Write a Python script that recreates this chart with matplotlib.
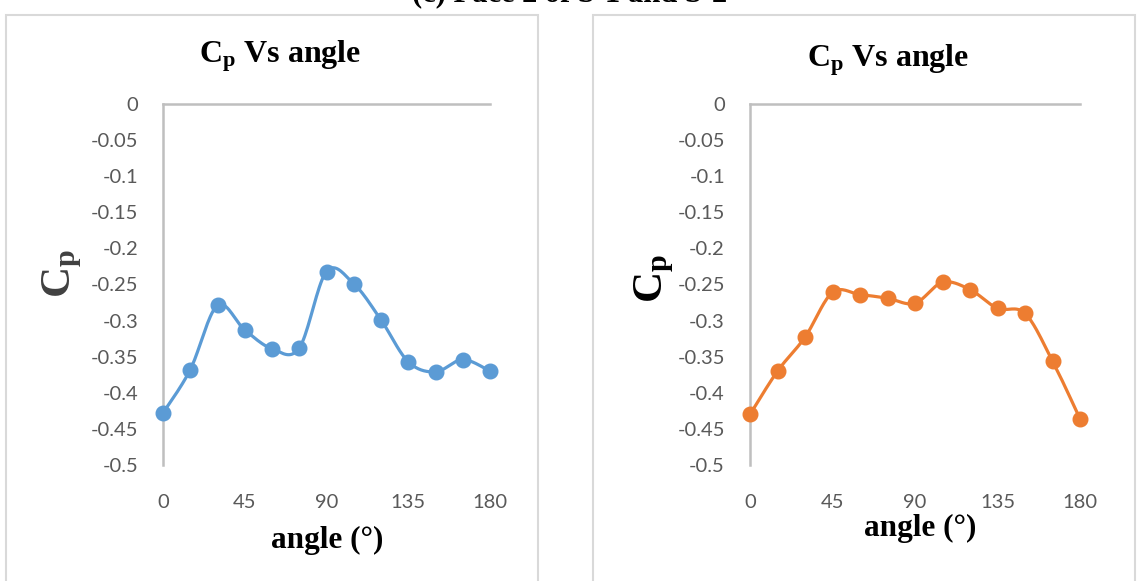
import numpy as np
import matplotlib
matplotlib.use("Agg")
import matplotlib.pyplot as plt
from matplotlib.patches import Rectangle

plt.rcParams['mathtext.fontset'] = 'custom'
plt.rcParams['mathtext.rm'] = 'Liberation Serif'
plt.rcParams['mathtext.bf'] = 'Liberation Serif:bold'
plt.rcParams['mathtext.it'] = 'Liberation Serif:italic'

# ---- data ----
angles = [0, 15, 30, 45, 60, 75, 90, 105, 120, 135, 150, 165, 180]
cp_s1 = [-0.428, -0.368, -0.279, -0.313, -0.339, -0.338, -0.232, -0.249,
         -0.299, -0.357, -0.371, -0.354, -0.370]
cp_s2 = [-0.430, -0.370, -0.323, -0.261, -0.264, -0.269, -0.276, -0.247,
         -0.257, -0.283, -0.290, -0.356, -0.436]
x_ticks = [0, 45, 90, 135, 180]
y_ticks = [0, -0.05, -0.1, -0.15, -0.2, -0.25, -0.3, -0.35, -0.4, -0.45, -0.5]
y_ticklabels = ['0', '-0.05', '-0.1', '-0.15', '-0.2', '-0.25', '-0.3',
                '-0.35', '-0.4', '-0.45', '-0.5']
caption = "(c) Face 2 of S-1 and S-2"
title_text = r"$\mathbf{C_p}$ Vs angle"
xlabel_text = "angle (°)"
ylabel_text = r"$\mathbf{C_p}$"
colors = ['#5B9BD5', '#ED7D31']

W, H = 1137, 581
fig = plt.figure(figsize=(W / 100, H / 100), dpi=100)


def smooth(x, y, n=20):
    """Excel-style smoothed line (cardinal Bezier through the points)."""
    x = np.asarray(x, float); y = np.asarray(y, float)
    P = np.column_stack([x, y])
    out = []
    for i in range(len(P) - 1):
        p0 = P[i - 1] if i > 0 else P[i]
        p1 = P[i]; p2 = P[i + 1]
        p3 = P[i + 2] if i + 2 < len(P) else P[i + 1]
        c1 = p1 + (p2 - p0) / 6.0
        c2 = p2 - (p3 - p1) / 6.0
        t = np.linspace(0, 1, n)[:, None]
        seg = ((1 - t) ** 3) * p1 + 3 * ((1 - t) ** 2) * t * c1 + 3 * (1 - t) * t ** 2 * c2 + t ** 3 * p2
        out.append(seg if i == 0 else seg[1:])
    S = np.vstack(out)
    return S[:, 0], S[:, 1]


def fx(px):
    return px / W


def fy(py):
    return 1 - py / H


# panel borders
for (x0, x1) in [(6, 538), (593, 1135)]:
    fig.patches.append(Rectangle((fx(x0), fy(600)), fx(x1) - fx(x0), fy(15) - fy(600),
                                 transform=fig.transFigure, fill=False,
                                 edgecolor='#D9D9D9', linewidth=1.5))

fig.text(fx(570), fy(-6), caption, ha='center', va='center',
         fontsize=22, fontweight='bold', family='Liberation Serif', color='black')

panels = [
    dict(ax=(163, 490), data=cp_s1, title=(280, 56), xl=(327, 540), yl=(62, 274), ylc='#404040'),
    dict(ax=(750, 1080), data=cp_s2, title=(888, 60), xl=(920, 528), yl=(654, 279), ylc='black'),
]

for i, p in enumerate(panels):
    l, r = p['ax']
    top, bot = 104, 465
    ax = fig.add_axes([fx(l), fy(bot), fx(r) - fx(l), fy(top) - fy(bot)])
    sx, sy = smooth(angles, p['data'])
    ax.plot(sx, sy, color=colors[i], lw=2.3, solid_capstyle='round', zorder=2, clip_on=False)
    ax.plot(angles, p['data'], 'o', color=colors[i], ms=10.5, zorder=3, clip_on=False)
    ax.set_xlim(0, 180)
    ax.set_ylim(-0.5, 0)
    ax.set_xticks(x_ticks)
    ax.set_xticklabels([str(t) for t in x_ticks])
    ax.set_yticks(y_ticks)
    ax.set_yticklabels(y_ticklabels)
    for s in ['bottom', 'right']:
        ax.spines[s].set_visible(False)
    for s in ['top', 'left']:
        ax.spines[s].set_color('#BFBFBF')
        ax.spines[s].set_linewidth(1.8)
    ax.tick_params(length=0, labelsize=14.5, labelcolor='#595959')
    ax.tick_params(axis='x', pad=21)
    ax.tick_params(axis='y', pad=18)
    for lab in ax.get_xticklabels() + ax.get_yticklabels():
        lab.set_family('Lato')
    ax.patch.set_alpha(0)

    fig.text(fx(p['title'][0]), fy(p['title'][1]), title_text, ha='center', va='center',
             fontsize=23, fontweight='bold', family='Liberation Serif', color='black')
    fig.text(fx(p['xl'][0]), fy(p['xl'][1]), xlabel_text, ha='center', va='center',
             fontsize=22.5, fontweight='bold', family='Liberation Serif', color='black')
    fig.text(fx(p['yl'][0]), fy(p['yl'][1]), ylabel_text, ha='center', va='center',
             rotation=90, fontsize=31, color=p['ylc'])

fig.savefig('out.png', dpi=100)
